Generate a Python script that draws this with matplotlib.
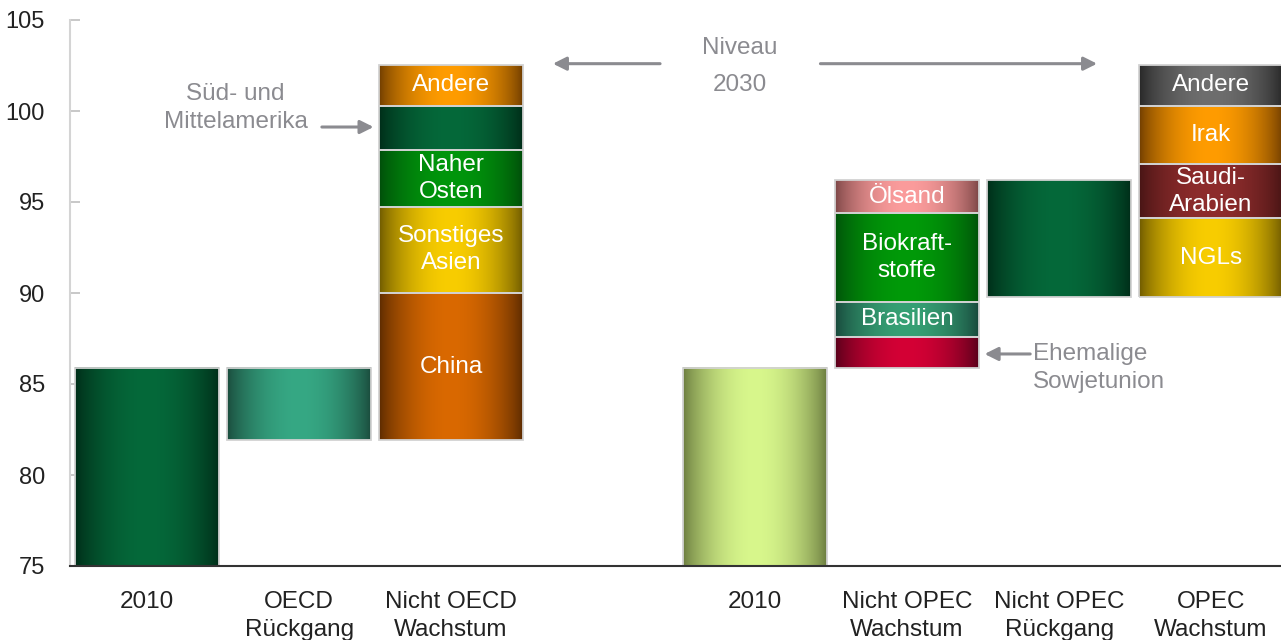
import matplotlib
matplotlib.use("Agg")
import matplotlib.pyplot as plt
from matplotlib.patches import Rectangle
from matplotlib.colors import to_rgb
import numpy as np

plt.rcParams['font.family'] = ['Liberation Sans', 'DejaVu Sans']

# categories along the x axis (slot 3 is left empty between the two groups)
categories = ["2010", "OECD\nRückgang", "Nicht OECD\nWachstum",
              "2010", "Nicht OPEC\nWachstum", "Nicht OPEC\nRückgang", "OPEC\nWachstum"]
slots = [0, 1, 2, 4, 5, 6, 7]

# million barrels per day
demand_2010 = 85.9
oecd_level = 81.9
non_oecd_labels = ["China", "Sonstiges\nAsien", "Naher\nOsten", "", "Andere"]
non_oecd_tops = [90.0, 94.75, 97.85, 100.3, 102.55]

supply_2010 = 85.9
non_opec_labels = ["", "Brasilien", "Biokraft-\nstoffe", "Ölsand"]
non_opec_tops = [87.6, 89.5, 94.4, 96.2]
non_opec_decline_level = 89.8
opec_labels = ["NGLs", "Saudi-\nArabien", "Irak", "Andere"]
opec_tops = [94.1, 97.1, 100.3, 102.55]

# (centre colour, edge colour) for the cylinder shading
DARK_GREEN = ("#05693a", "#002c18")
SEA_GREEN = ("#36a884", "#1a4a3b")
CHINA = ("#da6900", "#5a2a00")
ASIA = ("#f8cd00", "#6c5800")
MIDEAST = ("#00960c", "#004c0a")
ORANGE = ("#ff9c00", "#6e3c00")
LIME = ("#d8f78c", "#697a3e")
RED = ("#d40035", "#55001a")
BRAZIL = ("#36a074", "#17463a")
BIO = ("#009a08", "#00500a")
OILSAND = ("#fb9c9c", "#7a4545")
SAUDI = ("#8e2c2c", "#461414")
GREY = ("#6e6e6e", "#262626")

non_oecd_colors = [CHINA, ASIA, MIDEAST, DARK_GREEN, ORANGE]
non_opec_colors = [RED, BRAZIL, BIO, OILSAND]
opec_colors = [ASIA, SAUDI, ORANGE, GREY]

BAR_W = 0.947
NOTE = "#8b8b90"
FS = 17.5


def shaded_bar(ax, x, bottom, top, colors, label=""):
    center, edge = np.array(to_rgb(colors[0])), np.array(to_rgb(colors[1]))
    t = np.linspace(0, 1, 200)
    f = np.sin(np.pi * t) ** 0.75
    img = edge[None, :] + (center - edge)[None, :] * f[:, None]
    ax.imshow(img[None, :, :], extent=(x - BAR_W / 2, x + BAR_W / 2, bottom, top),
              aspect="auto", interpolation="bilinear", zorder=2)
    ax.add_patch(Rectangle((x - BAR_W / 2, bottom), BAR_W, top - bottom, fill=False,
                           edgecolor="#d2d2d2", lw=1.3, zorder=3))
    if label:
        ax.text(x, (bottom + top) / 2, label, ha="center", va="center", color="white",
                fontsize=FS, linespacing=1.3, zorder=4)


def stacked(ax, x, base, tops, labels, colors):
    bottom = base
    for top, lab, col in zip(tops, labels, colors):
        shaded_bar(ax, x, bottom, top, col, lab)
        bottom = top


fig = plt.figure(figsize=(12.81, 6.4), dpi=100)
ax = fig.add_axes([70 / 1281, 1 - 566 / 640, 1 - 70 / 1281, 546 / 640])

# demand side
shaded_bar(ax, slots[0], 75, demand_2010, DARK_GREEN)
shaded_bar(ax, slots[1], oecd_level, demand_2010, SEA_GREEN)
stacked(ax, slots[2], oecd_level, non_oecd_tops, non_oecd_labels, non_oecd_colors)

# supply side
shaded_bar(ax, slots[3], 75, supply_2010, LIME)
stacked(ax, slots[4], supply_2010, non_opec_tops, non_opec_labels, non_opec_colors)
shaded_bar(ax, slots[5], non_opec_decline_level, non_opec_tops[-1], DARK_GREEN)
stacked(ax, slots[6], non_opec_decline_level, opec_tops, opec_labels, opec_colors)

ax.set_xlim(-0.507, 7.46)
ax.set_ylim(75, 105)
ax.set_yticks(np.arange(75, 106, 5))
ax.set_xticks([])

for side in ("top", "right"):
    ax.spines[side].set_visible(False)
ax.spines["left"].set_color("#d4d4d4")
ax.spines["left"].set_linewidth(1.5)
ax.spines["bottom"].set_color("#333333")
ax.spines["bottom"].set_linewidth(1.5)
ax.spines["bottom"].set_zorder(5)
ax.tick_params(axis="y", direction="in", length=7, width=1.3, color="#c4c4c4",
               pad=18, labelsize=17, labelcolor="#222222")

for x, cat in zip(slots, categories):
    ax.text(x, -0.045, cat, transform=ax.get_xaxis_transform(), ha="center", va="top",
            fontsize=FS, color="#222222", linespacing=1.35)

# "Niveau 2030" with arrows to both totals
arrow = dict(arrowstyle="-|>", color=NOTE, lw=2.2, mutation_scale=20, shrinkA=0, shrinkB=0)
ax.text(3.9, 103.46, "Niveau", ha="center", va="center", fontsize=FS, color=NOTE)
ax.text(3.9, 101.43, "2030", ha="center", va="center", fontsize=FS, color=NOTE)
ax.annotate("", xy=(2.67, 102.6), xytext=(3.375, 102.6), arrowprops=arrow)
ax.annotate("", xy=(6.25, 102.6), xytext=(4.43, 102.6), arrowprops=arrow)

ax.text(0.582, 100.14, "Süd- und\nMittelamerika", ha="center", va="center",
        fontsize=FS, color=NOTE, linespacing=1.35)
ax.annotate("", xy=(1.49, 99.12), xytext=(1.15, 99.12), arrowprops=arrow)

ax.text(5.83, 85.9, "Ehemalige\nSowjetunion", ha="left", va="center",
        fontsize=FS, color=NOTE, linespacing=1.35)
ax.annotate("", xy=(5.51, 86.65), xytext=(5.81, 86.65), arrowprops=arrow)

fig.savefig("out.png", dpi=100)
